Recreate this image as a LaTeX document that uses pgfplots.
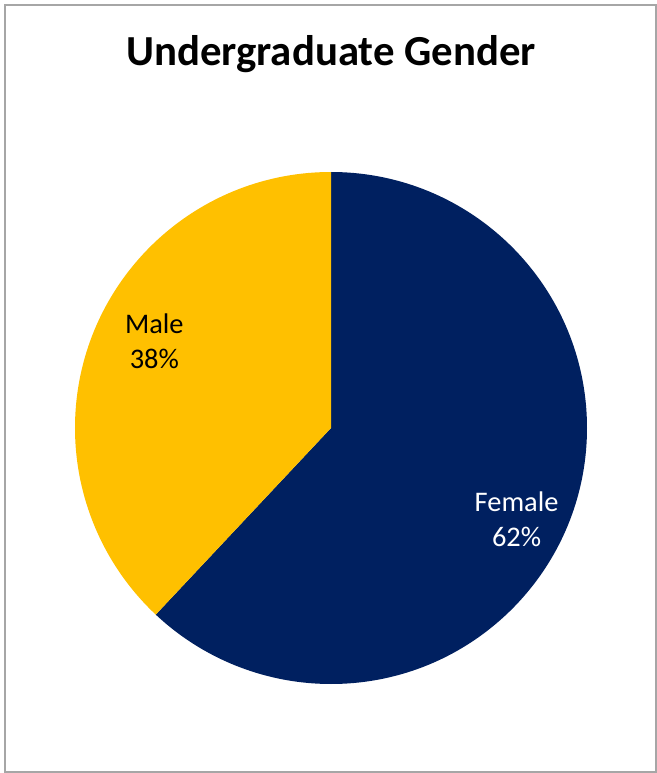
\documentclass[border=0pt]{standalone}
\usepackage{pgfplots}
\usepackage{pgfplotstable}
\pgfplotsset{compat=1.18}
\usepackage{fontspec}
\setmainfont{Carlito}
\definecolor{navy}{HTML}{002060}
\definecolor{gold}{HTML}{FFC000}
\definecolor{framegray}{HTML}{A6A6A6}
\pgfplotstableread{
label value
Female 62
Male 38
}\piedata
\pgfplotstablegetelem{0}{value}\of\piedata \let\femaleval\pgfplotsretval
\pgfplotstablegetelem{1}{value}\of\piedata \let\maleval\pgfplotsretval
\begin{document}
\begin{tikzpicture}[x=0.5pt,y=0.5pt]
\path[fill=white] (0,0) rectangle (657,773);
\draw[framegray, line width=1pt] (4.5,1) -- (4.5,767.5) -- (656,767.5) -- (656,1) -- cycle;
\node[font=\fontsize{21.4pt}{25pt}\selectfont\bfseries] at (331,719) {Undergraduate Gender};
\begin{axis}[
  hide axis,
  at={(165.5pt,172.5pt)}, anchor=origin,
  x=128pt, y=128pt,
  xmin=-1.05, xmax=1.05, ymin=-1.05, ymax=1.05,
  clip=false,
]
\pgfmathsetmacro{\fend}{90-3.6*\femaleval}
\pgfmathsetmacro{\mend}{90+3.6*\maleval}
\fill[navy] (axis cs:0,0) -- (axis cs:0,1) arc[start angle=90, end angle=\fend, radius=128pt] -- cycle;
\fill[gold] (axis cs:0,0) -- (axis cs:0,1) arc[start angle=90, end angle=\mend, radius=128pt] -- cycle;
\node[white, align=center, font=\fontsize{14.2pt}{17.5pt}\selectfont] at (axis cs:0.725,-0.355) {Female\\\femaleval\%};
\node[black, align=center, font=\fontsize{14.2pt}{17.5pt}\selectfont] at (axis cs:-0.69,0.34) {Male\\\maleval\%};
\end{axis}
\end{tikzpicture}
\end{document}
